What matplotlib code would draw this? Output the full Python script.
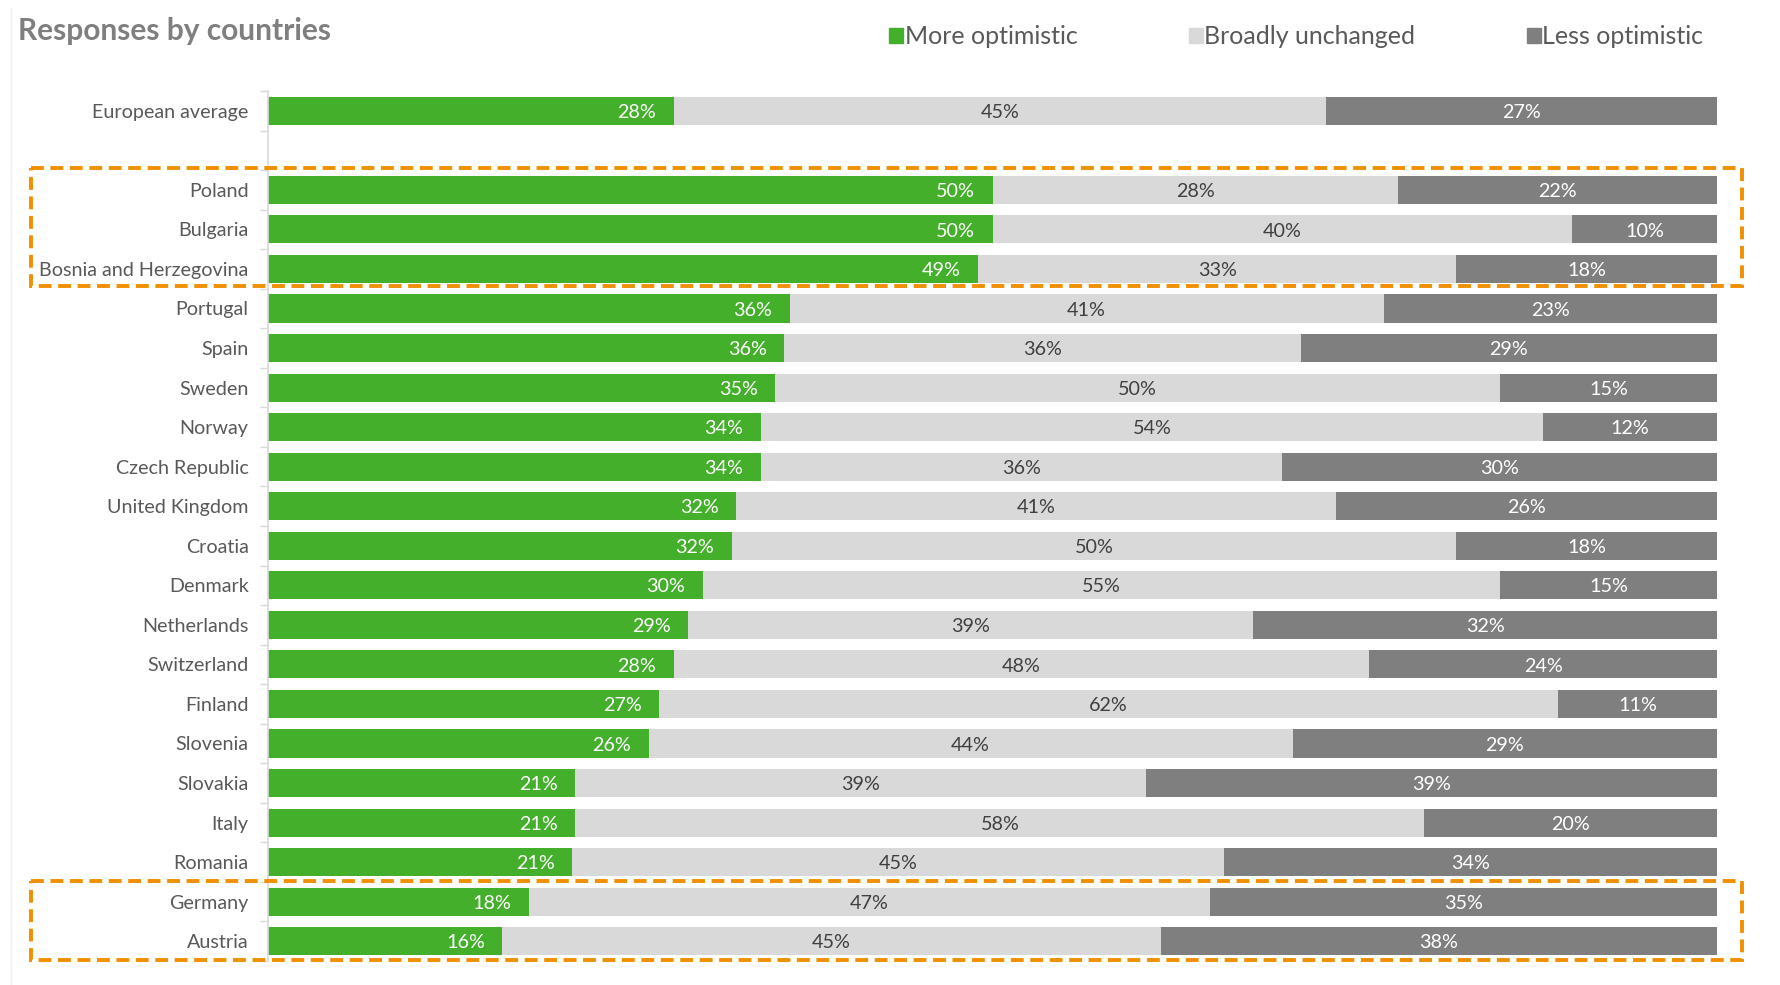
import matplotlib
matplotlib.use("Agg")
import matplotlib.pyplot as plt
import matplotlib.transforms as mtransforms
from matplotlib.patches import Patch, Rectangle
from matplotlib.lines import Line2D
import numpy as np

plt.rcParams['font.family'] = ['Lato', 'DejaVu Sans']

# data (%), rows top to bottom
countries = ["European average", "",
             "Poland", "Bulgaria", "Bosnia and Herzegovina", "Portugal", "Spain",
             "Sweden", "Norway", "Czech Republic", "United Kingdom", "Croatia",
             "Denmark", "Netherlands", "Switzerland", "Finland", "Slovenia",
             "Slovakia", "Italy", "Romania", "Germany", "Austria"]
more_optimistic = [28, None, 50, 50, 49, 36, 36, 35, 34, 34, 32, 32, 30, 29, 28, 27, 26, 21, 21, 21, 18, 16]
unchanged = [45, None, 28, 40, 33, 41, 36, 50, 54, 36, 41, 50, 55, 39, 48, 62, 44, 39, 58, 45, 47, 45]
less_optimistic = [27, None, 22, 10, 18, 23, 29, 15, 12, 30, 26, 18, 15, 32, 24, 11, 29, 39, 20, 34, 35, 38]
series_names = ["More optimistic", "Broadly unchanged", "Less optimistic"]

GREEN = "#43AF2A"
LIGHT = "#D9D9D9"
DARK = "#7F7F7F"
ORANGE = "#F08F00"
TXT = "#595959"

fig = plt.figure(figsize=(17.8, 9.85), dpi=100)
ax = fig.add_axes([268 / 1780, 1 - 961 / 985, (1717 - 268) / 1780, (961 - 91) / 985])

rows = [i for i, c in enumerate(countries) if more_optimistic[i] is not None]
m = np.array([more_optimistic[i] for i in rows], dtype=float)
u = np.array([unchanged[i] for i in rows], dtype=float)
l = np.array([less_optimistic[i] for i in rows], dtype=float)
tot = m + u + l
mw, uw, lw = m / tot * 100, u / tot * 100, l / tot * 100
y = np.array(rows)
h = 0.71

ax.barh(y, mw, height=h, color=GREEN)
ax.barh(y, uw, left=mw, height=h, color=LIGHT)
ax.barh(y, lw, left=mw + uw, height=h, color=DARK)

fs = 14.2
for i, yy in enumerate(y):
    ax.annotate(f"{int(m[i])}%", (mw[i], yy), xytext=(-12.5, -1.2), textcoords="offset points",
                ha="right", va="center", color="white", fontsize=fs)
    ax.annotate(f"{int(u[i])}%", (mw[i] + uw[i] / 2, yy), xytext=(0, -1.2), textcoords="offset points",
                ha="center", va="center", color="#404040", fontsize=fs)
    ax.annotate(f"{int(l[i])}%", (mw[i] + uw[i] + lw[i] / 2, yy), xytext=(0, -1.2),
                textcoords="offset points", ha="center", va="center", color="white", fontsize=fs)

ax.set_xlim(0, 100)
ax.set_ylim(len(countries) - 0.5, -0.5)
ax.set_yticks(range(len(countries)))
ax.set_yticklabels(countries, fontsize=fs, color=TXT)
ax.set_yticks(np.arange(-0.5, len(countries), 1), minor=True)
ax.tick_params(axis="y", which="major", length=0, pad=14)
ax.tick_params(axis="y", which="minor", length=6, color="#D9D9D9", width=1)
ax.set_xticks([])
for s in ["top", "right", "bottom"]:
    ax.spines[s].set_visible(False)
ax.spines["left"].set_color("#D9D9D9")
ax.spines["left"].set_linewidth(1.2)

# orange dashed highlight boxes (x in figure, y in data)
trans = mtransforms.blended_transform_factory(fig.transFigure, ax.transData)
x0, x1 = 31 / 1780, 1742 / 1780
for top, bot in [(1.45, 4.42), (19.47, 21.47)]:
    r = Rectangle((x0, top), x1 - x0, bot - top, transform=trans, fill=False,
                  edgecolor=ORANGE, linewidth=2.8, linestyle=(0, (3.3, 1.7)), clip_on=False)
    fig.add_artist(r)

# faint chart-area border on the left
fig.add_artist(Line2D([11 / 1780, 11 / 1780], [0, 1 - 8 / 985], transform=fig.transFigure,
                      color="#EFEFEF", linewidth=1))

fig.text(18 / 1780, 1 - 31 / 985, "Responses by countries", fontsize=21.5, fontweight="bold",
         color="#7F7F7F", ha="left", va="center")

handles = [Patch(color=c) for c in [GREEN, LIGHT, DARK]]
fig.legend(handles, series_names, loc="center left", bbox_to_anchor=(889 / 1780, 1 - 37 / 985),
           ncol=3, frameon=False, fontsize=18, handlelength=0.55, handleheight=0.55,
           handletextpad=0.08, columnspacing=4.45, labelcolor=TXT, borderpad=0, borderaxespad=0)

fig.savefig("out.png", dpi=100, facecolor="white")
